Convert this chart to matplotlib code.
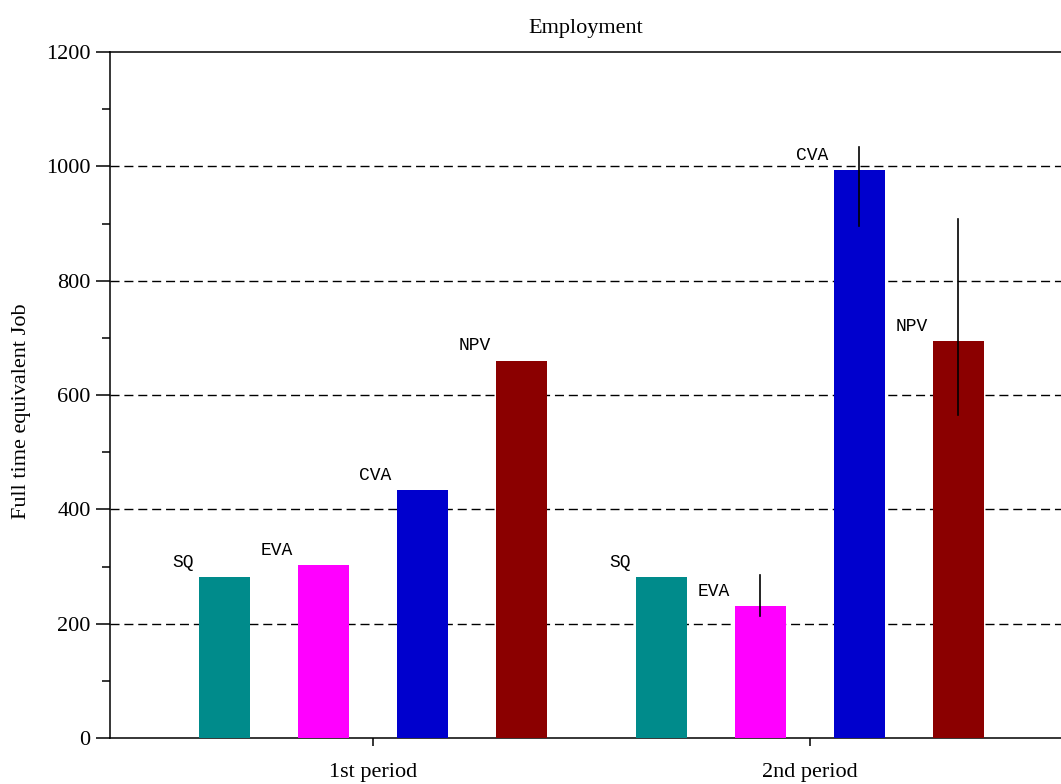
import matplotlib
matplotlib.use("Agg")
import matplotlib.pyplot as plt
import numpy as np

periods = ["1st period", "2nd period"]
scenarios = ["SQ", "EVA", "CVA", "NPV"]
colors = ["#008B8B", "#FF00FF", "#0000CD", "#8B0000"]
# values[scenario][period]
values = {
    "SQ":  [282, 282],
    "EVA": [302, 231],
    "CVA": [433, 994],
    "NPV": [660, 694],
}
# error ranges (low, high) per scenario per period; None = no error bar
err_low = {"SQ": [None, None], "EVA": [None, 214], "CVA": [None, 896], "NPV": [None, 565]}
err_high = {"SQ": [None, None], "EVA": [None, 285], "CVA": [None, 1034], "NPV": [None, 907]}
yticks = [0, 200, 400, 600, 800, 1000, 1200]

serif = "Liberation Serif"
fig = plt.figure(figsize=(10.61, 7.84), dpi=100)
ax = fig.add_axes([110/1061, 1-738/784, 1-110/1061, (738-52)/784])

x = np.arange(len(periods))
step = 0.2265
width = 0.1167
for i, s in enumerate(scenarios):
    offs = (i - 1.5) * step
    xs = x + offs
    ax.bar(xs, values[s], width=width, color=colors[i], zorder=3)
    for j in range(len(periods)):
        left = xs[j] - width / 2
        ax.annotate(s, (left, values[s][j]), xytext=(-4, 4.5), textcoords="offset points",
                    ha="right", va="bottom", fontsize=13, family="Liberation Mono",
                    zorder=5)
        lo, hi = err_low[s][j], err_high[s][j]
        if lo is not None:
            ax.plot([xs[j], xs[j]], [lo, hi], color="black", lw=1.2, zorder=4)

ax.set_xlim(-0.6018, 1.5744)
ax.set_ylim(0, 1200)
ax.set_xticks(x)
ax.set_xticklabels(periods, family=serif, fontsize=16)
ax.set_yticks(yticks)
ax.set_yticklabels([str(t) for t in yticks], family=serif, fontsize=16)
ax.set_yticks(np.arange(100, 1200, 200), minor=True)
ax.tick_params(axis="y", which="major", length=10, width=1.1, pad=4)
ax.tick_params(axis="y", which="minor", length=6, width=1.1)
ax.tick_params(axis="x", which="major", length=6, width=1.1, pad=12)
for y in yticks[1:-1]:
    ax.axhline(y, color="black", lw=1.0, ls=(0, (6.5, 3.5)), zorder=1)
for sp in ["left", "top", "bottom"]:
    ax.spines[sp].set_linewidth(1.1)
ax.spines["right"].set_visible(False)
ax.set_title("Employment", family=serif, fontsize=16, pad=14)
ax.set_ylabel("Full time equivalent Job", family=serif, fontsize=16)
ax.yaxis.set_label_coords(-0.083, 0.477)

fig.savefig("out.png", dpi=100)
